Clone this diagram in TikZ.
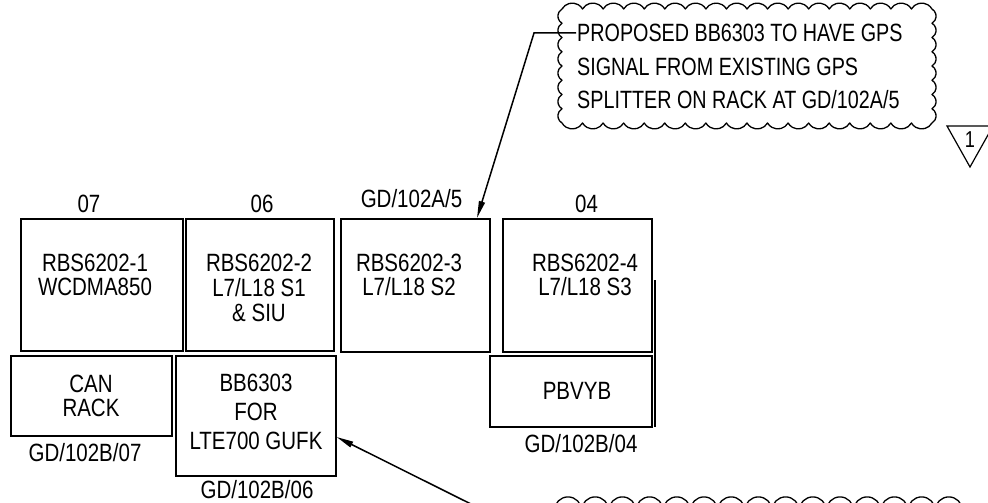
\documentclass[tikz,border=0pt]{standalone}
\usepackage{fontspec}
\setmainfont{Liberation Sans}
\newfontfamily\boxfnt[FakeStretch=0.82]{Liberation Sans}
\newfontfamily\cldfnt[FakeStretch=0.79]{Liberation Sans}
\usetikzlibrary{arrows.meta,calc}
\begin{document}
\begin{tikzpicture}[x=1pt,y=1pt,
  rack/.style={draw, rectangle, line width=1.6pt, inner sep=0pt, anchor=north west},
  rackthick/.style={rack, line width=2.4pt},
  txt/.style={inner sep=0pt, align=center, font=\boxfnt\fontsize{25}{24}\selectfont},
  lbl/.style={inner sep=0pt, font=\boxfnt\fontsize{25}{24}\selectfont},
  cloudtxt/.style={inner sep=0pt, align=left, font=\cldfnt\fontsize{25}{33.5}\selectfont},
  cloudline/.style={draw, line width=1.3pt, line join=round},
  arr/.style={draw, line width=1.5pt, -{Triangle[length=17pt,width=6pt]}},
]
\useasboundingbox (0,0) rectangle (988,-503);
\fill[white] (0,0) rectangle (988,-503);
\clip (0,0) rectangle (988,-503);

% upper row of racks
\node[rackthick, minimum width=162pt, minimum height=132pt] (b1) at (20,-218) {};
\node[rack, minimum width=148pt, minimum height=132pt] (b2) at (185,-218) {};
\node[rack, minimum width=149pt, minimum height=133pt] (b3) at (340,-218) {};
\node[rack, minimum width=149pt, minimum height=133pt] (b4) at (502,-218) {};
% lower row
\node[rackthick, minimum width=161pt, minimum height=80pt] (can) at (10,-355) {};
\node[rack, minimum width=160pt, minimum height=120pt] (bb) at (175,-355) {};
\node[rackthick, minimum width=162pt, minimum height=71pt] (pb) at (489,-355) {};
\draw[line width=1.6pt] (655,-280) -- (655,-427);

% texts inside boxes
\node[txt] (t1) at (95,-275) {RBS6202-1\\WCDMA850};
\node[txt, font=\boxfnt\fontsize{25}{25}\selectfont] (t2) at (259,-288) {RBS6202-2\\L7/L18 S1\\\& SIU};
\node[txt] (t3) at (409,-275) {RBS6202-3\\L7/L18 S2};
\node[txt] (t4) at (585,-275) {RBS6202-4\\L7/L18 S3};
\node[txt, font=\boxfnt\fontsize{25}{24}\selectfont] (t5) at (91,-396) {CAN\\RACK};
\node[txt, font=\boxfnt\fontsize{25}{29}\selectfont] (t6) at (256,-412) {BB6303\\FOR\\LTE700 GUFK};
\node[txt] (t7) at (577,-391) {PBVYB};

% labels
\node[lbl] (l07) at (89,-204) {07};
\node[lbl] (l06) at (262,-204) {06};
\node[lbl] (l05) at (411.5,-198.5) {GD/102A/5};
\node[lbl] (l04) at (586.5,-203.5) {04};
\node[lbl] (lb07) at (85,-452.5) {GD/102B/07};
\node[lbl] (lb06) at (257,-489.5) {GD/102B/06};
\node[lbl] (lb04) at (581,-443.5) {GD/102B/04};

% revision cloud (top)
\draw[cloudline] (562,-9)
  \foreach \i in {1,...,18} { arc[start angle=150,end angle=30,radius=11.867pt] }
  \foreach \i in {1,...,8} { arc[start angle=60,end angle=-60,radius=8.227pt] }
  \foreach \i in {1,...,18} { arc[start angle=-30,end angle=-150,radius=11.867pt] }
  \foreach \i in {1,...,8} { arc[start angle=240,end angle=120,radius=8.227pt] } -- cycle;
\node[cloudtxt, anchor=west] (note) at (577,-66.5) {PROPOSED BB6303 TO HAVE GPS\\SIGNAL FROM EXISTING GPS\\SPLITTER ON RACK AT GD/102A/5};

% revision triangle
\draw[line width=1.2pt, line join=miter] (947,-126) -- (993,-126) -- (970,-167) -- cycle;
\node[inner sep=0pt, font=\cldfnt\fontsize{23}{23}\selectfont] (rev) at (970,-140) {1};

% bottom cloud (partly visible)
\foreach \k in {0,...,14} {
  \draw[line width=1.3pt] ({568+27.2*\k},-510.5) circle[radius=13.6pt];
}

% leaders
\coordinate (ldrA) at (576,-33);
\coordinate (ldrB) at (534,-33);
\coordinate (b3tip) at (b3.north -| 477,0);
\draw[arr] (ldrA) -- (ldrB) -- (b3tip);
\coordinate (btail) at (490,-513.5);
\coordinate (bbtip) at (bb.east |- 0,-437);
\draw[arr] (btail) -- (bbtip);
\end{tikzpicture}
\end{document}
